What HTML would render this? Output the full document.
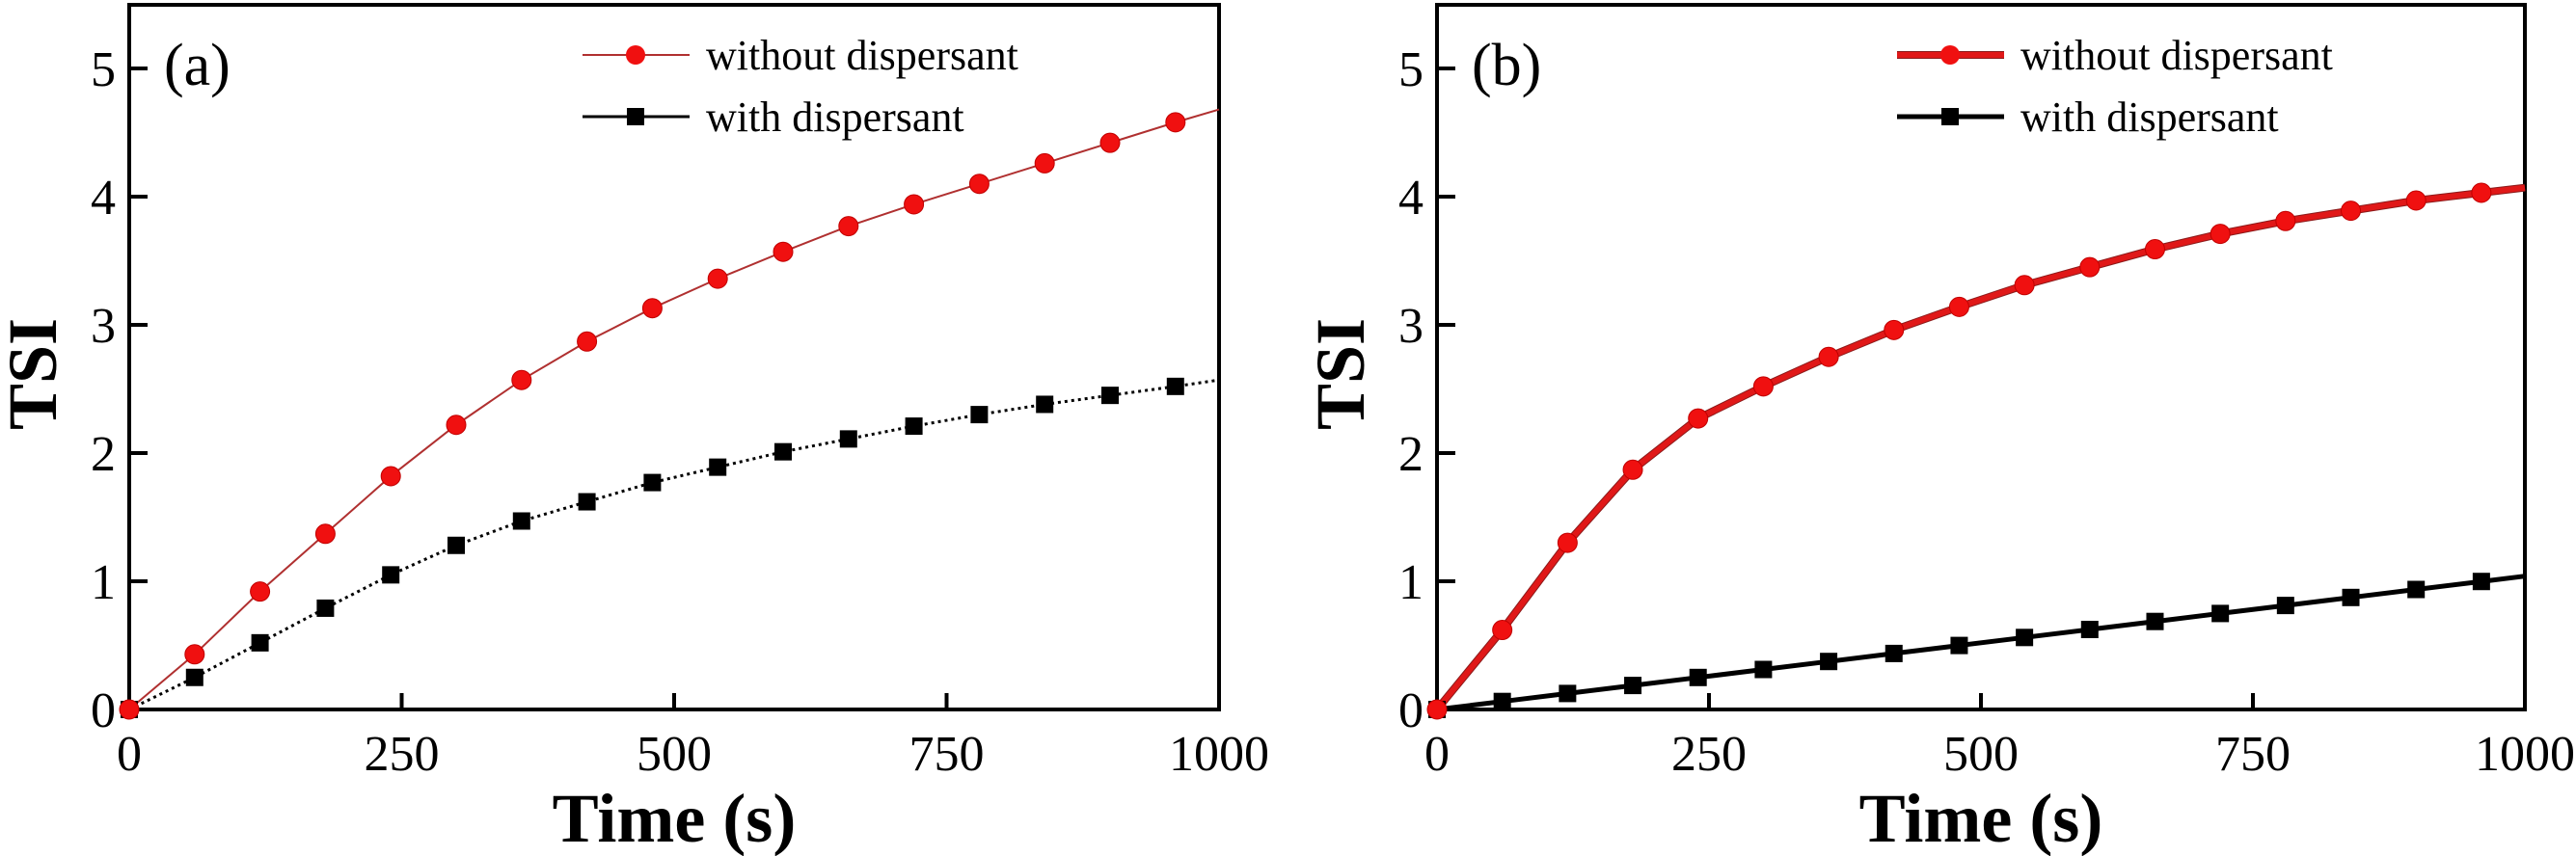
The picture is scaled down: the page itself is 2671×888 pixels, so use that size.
<!DOCTYPE html>
<html><head><meta charset="utf-8"><style>
html,body{margin:0;padding:0;background:#fff;}
svg{display:block;}
text{font-family:"Liberation Serif",serif;}
</style></head><body>
<svg id="s" width="2671" height="888" viewBox="0 0 2671 888" xmlns="http://www.w3.org/2000/svg"></svg>
<script>
const NS="http://www.w3.org/2000/svg";
const s=document.getElementById('s');
function el(t,a,txt){const e=document.createElementNS(NS,t);for(const k in a)e.setAttribute(k,a[k]);if(txt!==undefined)e.textContent=txt;s.appendChild(e);return e;}
const Y0=736, YU=133, TOP=5;
const ts=[0,60,120,180,240,300,360,420,480,540,600,660,720,780,840,900,960,1000];
const panels=[
 {L:134,R:1264,lab:"(a)",
  red:[0,0.43,0.92,1.37,1.82,2.22,2.57,2.87,3.13,3.36,3.57,3.77,3.94,4.10,4.26,4.42,4.58,4.68],
  blk:[0,0.25,0.52,0.79,1.05,1.28,1.47,1.62,1.77,1.89,2.01,2.11,2.21,2.30,2.38,2.45,2.52,2.57],
  rw:2, bw:3, bdash:"3,4", legX:604},
 {L:1490,R:2618,lab:"(b)",
  red:[0,0.62,1.30,1.87,2.27,2.52,2.75,2.96,3.14,3.31,3.45,3.59,3.71,3.81,3.89,3.97,4.03,4.07],
  blk:ts.map(t=>t*0.00104),
  rw:6, bw:5, bdash:"", legX:1967}
];
panels.forEach(p=>{
  const sx=t=>p.L+(p.R-p.L)*t/1000, sy=v=>Y0-v*YU;
  // frame
  el('rect',{x:p.L,y:TOP,width:p.R-p.L,height:Y0-TOP,fill:'none',stroke:'#000','stroke-width':4});
  for(let i=0;i<=5;i++){const y=sy(i);el('line',{x1:p.L,y1:y,x2:p.L+19,y2:y,stroke:'#000','stroke-width':4});
    el('text',{x:p.L-14,y:y+18,'font-size':52,'text-anchor':'end'},String(i));}
  [0,250,500,750,1000].forEach(t=>{const x=sx(t);
    if(t>0&&t<1000)el('line',{x1:x,y1:Y0,x2:x,y2:Y0-17,stroke:'#000','stroke-width':4});
    el('text',{x:x,y:Y0+63,'font-size':52,'text-anchor':'middle'},String(t));});
  el('text',{x:(p.L+p.R)/2,y:873,'font-size':72,'font-weight':'bold','text-anchor':'middle'},"Time (s)");
  const cx=p.L-100, cy=388;
  el('text',{x:cx,y:cy,'font-size':72,'font-weight':'bold','text-anchor':'middle',transform:`rotate(-90 ${cx} ${cy})`,dy:24},"TSI");
  el('text',{x:p.L+36,y:88,'font-size':62},p.lab);
  // series
  const rp=ts.map((t,i)=>sx(t)+','+sy(p.red[i])).join(' ');
  const bp=ts.map((t,i)=>sx(t)+','+sy(p.blk[i])).join(' ');
  if(p.rw>3) el('polyline',{points:rp,fill:'none',stroke:'#8b1a1a','stroke-width':p.rw+2});
  el('polyline',{points:rp,fill:'none',stroke:p.rw>3?'#e01818':'#b03030','stroke-width':p.rw});
  const ba={points:bp,fill:'none',stroke:'#000','stroke-width':p.bw};
  if(p.bdash)ba['stroke-dasharray']=p.bdash;
  el('polyline',ba);
  ts.forEach((t,i)=>{if(t===1000)return;
    el('rect',{x:sx(t)-9,y:sy(p.blk[i])-9,width:18,height:18,fill:'#000'});});
  ts.forEach((t,i)=>{if(t===1000)return;
    el('circle',{cx:sx(t),cy:sy(p.red[i]),r:10,fill:'#f01010',stroke:'#c00000','stroke-width':1});});
  // legend
  const lx=p.legX, lx2=lx+111, mx=lx+55;
  if(p.rw>3) el('line',{x1:lx,y1:57,x2:lx2,y2:57,stroke:'#8b1a1a','stroke-width':p.rw+2});
  el('line',{x1:lx,y1:57,x2:lx2,y2:57,stroke:p.rw>3?'#e01818':'#b03030','stroke-width':p.rw});
  el('circle',{cx:mx,cy:57,r:10,fill:'#f01010'});
  el('line',{x1:lx,y1:121,x2:lx2,y2:121,stroke:'#000','stroke-width':p.bw});
  el('rect',{x:mx-9,y:112,width:18,height:18,fill:'#000'});
  el('text',{x:lx2+17,y:72,'font-size':44},"without dispersant");
  el('text',{x:lx2+17,y:136,'font-size':44},"with dispersant");
});
</script>
</body></html>
